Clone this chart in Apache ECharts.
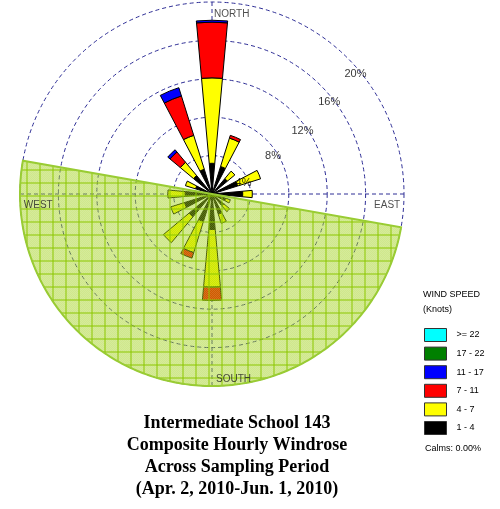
<!DOCTYPE html>
<html>
<head>
<meta charset="utf-8">
<script src="https://cdn.jsdelivr.net/npm/echarts@6/dist/echarts.min.js"></script>
<style>
  html, body { margin: 0; padding: 0; background: #fff; }
  #chart { width: 500px; height: 509px; }
</style>
</head>
<body>
<div id="chart"></div>
<script>
// 16 wind directions, clockwise from north
const directions = ['N', 'NNE', 'NE', 'ENE', 'E', 'ESE', 'SE', 'SSE', 'S', 'SSW', 'SW', 'WSW', 'W', 'WNW', 'NW', 'NNW']

// frequency (%) per speed class
const speed1to4   = [3.2, 3.0, 2.1, 2.8, 3.2, 1.5, 1.6, 2.2, 3.7, 3.0, 3.1, 3.0, 2.8, 1.8, 2.5, 2.7]
const speed4to7   = [8.9, 3.1, 1.0, 2.5, 1.0, 0.5, 0.8, 1.0, 6.0, 3.4, 3.5, 1.5, 1.8, 1.1, 1.8, 3.7]
const speed7to11  = [5.8, 0.3, 0, 0, 0, 0, 0, 0, 1.4, 0.6, 0, 0, 0, 0, 1.4, 4.3]
const speed11to17 = [0.2, 0, 0, 0, 0, 0, 0, 0, 0, 0, 0, 0, 0, 0, 0.3, 0.9]
const speed17to22 = [0, 0, 0, 0, 0, 0, 0, 0, 0, 0, 0, 0, 0, 0, 0, 0]
const speedOver22 = [0, 0, 0, 0, 0, 0, 0, 0, 0, 0, 0, 0, 0, 0, 0, 0]

const speedNames = ['1 - 4', '4 - 7', '7 - 11', '11 - 17', '17 - 22', '>= 22']
const speedColors = ['#000000', '#ffff00', '#ff0000', '#0000ff', '#008000', '#00ffff']
const speedData = [speed1to4, speed4to7, speed7to11, speed11to17, speed17to22, speedOver22]

// ring ticks (%)
const ringTicks = [4, 8, 12, 16, 20]
const ringMax = 20

// shaded sector (bearing from / to, degrees)
const shadedSector = [100, 280]

const compassLabels = ['NORTH', 'EAST', 'SOUTH', 'WEST']
const compassBearings = [0, 90, 180, 270]

// hatch pattern for the shaded half
const makePattern = () => {
  const c = document.createElement('canvas')
  c.width = 13
  c.height = 13
  const ctx = c.getContext('2d')
  ctx.fillStyle = 'rgba(150,205,0,0.45)'
  ctx.fillRect(0, 0, 13, 13)
  ctx.fillStyle = 'rgba(255,255,255,0.12)'
  for (let y = 0; y < 13; y++) {
    for (let x = (y % 2); x < 13; x += 2) ctx.fillRect(x, y, 1, 1)
  }
  ctx.fillStyle = 'rgba(140,200,0,0.5)'
  ctx.fillRect(0, 0, 13, 2)
  ctx.fillRect(0, 0, 2, 13)
  return c
}

const chart = echarts.init(document.getElementById('chart'))
const dashColor = '#2e2e96'
const center = [212, 194]
const radius = 192

const barSeries = speedNames.map((name, i) => ({
  name: name,
  type: 'bar',
  coordinateSystem: 'polar',
  polarIndex: 0,
  stack: 'wind',
  barWidth: '46%',
  data: speedData[i].map(v => (v > 0 ? v : '-')),
  itemStyle: { color: speedColors[i], borderColor: '#000', borderWidth: 1 },
  z: 2
}))

// ring label positions (radius offset, bearing)
const ringLabelBearing = [70, 58, 55, 52, 50]
const ringLabelData = ringTicks.map((t, i) => ({
  value: [t - 0.5, ringLabelBearing[i]],
  label: { formatter: t + '%' }
}))

const compassData = compassLabels.map((name, i) => {
  const b = compassBearings[i]
  let label
  if (b === 0) label = { position: 'right', distance: 2 }
  else if (b === 180) label = { position: 'right', distance: 4 }
  else if (b === 90) label = { position: 'bottom', align: 'right', distance: 6 }
  else label = { position: 'bottom', align: 'left', distance: 6 }
  const r = b === 0 ? 18.7 : (b === 180 ? 19.3 : 19.6)
  return { value: [r, b], label: Object.assign({ formatter: name }, label) }
})

const option = {
  backgroundColor: '#fff',
  animation: false,
  title: {
    text: 'Intermediate School 143\nComposite Hourly Windrose\nAcross Sampling Period\n(Apr. 2, 2010-Jun. 1, 2010)',
    left: 232,
    top: 407,
    textAlign: 'center',
    textStyle: {
      fontFamily: 'Liberation Serif',
      fontWeight: 'bold',
      fontSize: 18,
      lineHeight: 22,
      color: '#000'
    }
  },
  legend: {
    data: speedNames.slice().reverse(),
    orient: 'vertical',
    left: 419,
    top: 323,
    itemWidth: 22,
    itemHeight: 13,
    itemGap: 4.6,
    icon: 'rect',
    selectedMode: false,
    itemStyle: { borderWidth: 1, borderColor: '#333' },
    textStyle: { fontFamily: 'Liberation Sans', fontSize: 9, lineHeight: 12, color: '#000', padding: [0, 0, 0, 5] }
  },
  graphic: [
    { type: 'text', left: 423, top: 290, style: { text: 'WIND SPEED', font: '9px Liberation Sans', fill: '#000' } },
    { type: 'text', left: 423, top: 305, style: { text: '(Knots)', font: '9px Liberation Sans', fill: '#000' } },
    { type: 'text', left: 425, top: 444, style: { text: 'Calms: 0.00%', font: '9px Liberation Sans', fill: '#000' } }
  ],
  polar: [
    { center: center, radius: radius },
    { center: center, radius: radius }
  ],
  angleAxis: [
    {
      polarIndex: 0,
      type: 'category',
      data: directions,
      startAngle: 90 + 360 / directions.length / 2,
      clockwise: true,
      axisLine: { show: false },
      axisTick: { show: false },
      axisLabel: { show: false },
      splitLine: { show: false }
    },
    {
      polarIndex: 1,
      type: 'value',
      min: 0,
      max: 360,
      interval: 90,
      startAngle: 90,
      clockwise: true,
      axisLine: { show: false },
      axisTick: { show: false },
      axisLabel: { show: false },
      splitLine: { show: true, lineStyle: { color: dashColor, type: [4, 3], width: 1 } }
    }
  ],
  radiusAxis: [
    {
      polarIndex: 0,
      type: 'value',
      min: 0,
      max: ringMax,
      interval: 4,
      axisLine: { show: false },
      axisTick: { show: false },
      axisLabel: { show: false },
      splitLine: { show: true, lineStyle: { color: dashColor, type: [4, 3], width: 1 } }
    },
    {
      polarIndex: 1,
      type: 'value',
      min: 0,
      max: ringMax,
      axisLine: { show: false },
      axisTick: { show: false },
      axisLabel: { show: false },
      splitLine: { show: false }
    }
  ],
  series: barSeries.concat([
    {
      type: 'custom',
      coordinateSystem: 'polar',
      polarIndex: 1,
      z: 3,
      silent: true,
      data: [[ringMax, shadedSector[0], shadedSector[1]]],
      renderItem: function (params, api) {
        const r = api.value(0)
        const a0 = api.value(1)
        const a1 = api.value(2)
        const pts = [api.coord([0, a0])]
        for (let a = a0; a <= a1 + 0.001; a += 1) pts.push(api.coord([r, a]))
        return {
          type: 'polygon',
          shape: { points: pts },
          style: { fill: { image: makePattern(), repeat: 'repeat' }, stroke: '#99cc33', lineWidth: 2 }
        }
      }
    },
    {
      type: 'scatter',
      coordinateSystem: 'polar',
      polarIndex: 1,
      symbolSize: 0,
      z: 4,
      silent: true,
      data: ringLabelData,
      label: { show: true, position: 'inside', fontFamily: 'Liberation Sans', fontSize: 11, color: '#000' }
    },
    {
      type: 'scatter',
      coordinateSystem: 'polar',
      polarIndex: 1,
      symbolSize: 0,
      z: 4,
      silent: true,
      data: compassData,
      label: { show: true, fontFamily: 'Liberation Sans', fontSize: 10, color: '#222' }
    }
  ])
}

chart.setOption(option)
</script>
</body>
</html>
